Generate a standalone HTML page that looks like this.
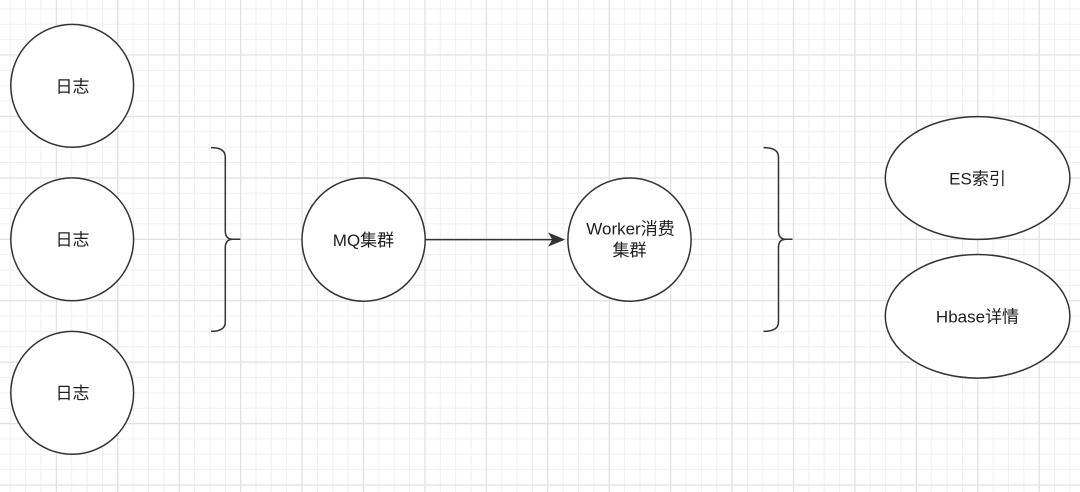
<!DOCTYPE html>
<html>
<head>
<meta charset="utf-8">
<style>
html,body{margin:0;padding:0;background:#fff;}
body{width:1080px;height:492px;overflow:hidden;}
svg{display:block;}
text{font-family:"Liberation Sans","Noto Sans CJK SC",sans-serif;font-size:17px;fill:#1e1e1e;text-anchor:middle;dominant-baseline:central;}
</style>
</head>
<body>
<svg width="1080" height="492" viewBox="0 0 1080 492" xmlns="http://www.w3.org/2000/svg">
<rect width="1080" height="492" fill="#fff"/>
<g stroke="#f0f0f0" stroke-width="1">
<line x1="10.3" y1="0" x2="10.3" y2="492"/><line x1="25.66" y1="0" x2="25.66" y2="492"/><line x1="41.01" y1="0" x2="41.01" y2="492"/>
<line x1="71.73" y1="0" x2="71.73" y2="492"/><line x1="87.09" y1="0" x2="87.09" y2="492"/><line x1="102.44" y1="0" x2="102.44" y2="492"/>
<line x1="133.16" y1="0" x2="133.16" y2="492"/><line x1="148.51" y1="0" x2="148.51" y2="492"/><line x1="163.87" y1="0" x2="163.87" y2="492"/>
<line x1="194.58" y1="0" x2="194.58" y2="492"/><line x1="209.94" y1="0" x2="209.94" y2="492"/><line x1="225.3" y1="0" x2="225.3" y2="492"/>
<line x1="256.01" y1="0" x2="256.01" y2="492"/><line x1="271.37" y1="0" x2="271.37" y2="492"/><line x1="286.73" y1="0" x2="286.73" y2="492"/>
<line x1="317.44" y1="0" x2="317.44" y2="492"/><line x1="332.8" y1="0" x2="332.8" y2="492"/><line x1="348.15" y1="0" x2="348.15" y2="492"/>
<line x1="378.87" y1="0" x2="378.87" y2="492"/><line x1="394.23" y1="0" x2="394.23" y2="492"/><line x1="409.58" y1="0" x2="409.58" y2="492"/>
<line x1="440.3" y1="0" x2="440.3" y2="492"/><line x1="455.65" y1="0" x2="455.65" y2="492"/><line x1="471.01" y1="0" x2="471.01" y2="492"/>
<line x1="501.72" y1="0" x2="501.72" y2="492"/><line x1="517.08" y1="0" x2="517.08" y2="492"/><line x1="532.44" y1="0" x2="532.44" y2="492"/>
<line x1="563.15" y1="0" x2="563.15" y2="492"/><line x1="578.51" y1="0" x2="578.51" y2="492"/><line x1="593.87" y1="0" x2="593.87" y2="492"/>
<line x1="624.58" y1="0" x2="624.58" y2="492"/><line x1="639.94" y1="0" x2="639.94" y2="492"/><line x1="655.29" y1="0" x2="655.29" y2="492"/>
<line x1="686.01" y1="0" x2="686.01" y2="492"/><line x1="701.37" y1="0" x2="701.37" y2="492"/><line x1="716.72" y1="0" x2="716.72" y2="492"/>
<line x1="747.44" y1="0" x2="747.44" y2="492"/><line x1="762.79" y1="0" x2="762.79" y2="492"/><line x1="778.15" y1="0" x2="778.15" y2="492"/>
<line x1="808.86" y1="0" x2="808.86" y2="492"/><line x1="824.22" y1="0" x2="824.22" y2="492"/><line x1="839.58" y1="0" x2="839.58" y2="492"/>
<line x1="870.29" y1="0" x2="870.29" y2="492"/><line x1="885.65" y1="0" x2="885.65" y2="492"/><line x1="901.01" y1="0" x2="901.01" y2="492"/>
<line x1="931.72" y1="0" x2="931.72" y2="492"/><line x1="947.08" y1="0" x2="947.08" y2="492"/><line x1="962.43" y1="0" x2="962.43" y2="492"/>
<line x1="993.15" y1="0" x2="993.15" y2="492"/><line x1="1008.5" y1="0" x2="1008.5" y2="492"/><line x1="1023.86" y1="0" x2="1023.86" y2="492"/>
<line x1="1054.58" y1="0" x2="1054.58" y2="492"/><line x1="1069.93" y1="0" x2="1069.93" y2="492"/>
<line x1="0" y1="8.93" x2="1080" y2="8.93"/><line x1="0" y1="24.29" x2="1080" y2="24.29"/><line x1="0" y1="39.64" x2="1080" y2="39.64"/>
<line x1="0" y1="70.36" x2="1080" y2="70.36"/><line x1="0" y1="85.72" x2="1080" y2="85.72"/><line x1="0" y1="101.07" x2="1080" y2="101.07"/>
<line x1="0" y1="131.79" x2="1080" y2="131.79"/><line x1="0" y1="147.14" x2="1080" y2="147.14"/><line x1="0" y1="162.5" x2="1080" y2="162.5"/>
<line x1="0" y1="193.21" x2="1080" y2="193.21"/><line x1="0" y1="208.57" x2="1080" y2="208.57"/><line x1="0" y1="223.93" x2="1080" y2="223.93"/>
<line x1="0" y1="254.64" x2="1080" y2="254.64"/><line x1="0" y1="270" x2="1080" y2="270"/><line x1="0" y1="285.36" x2="1080" y2="285.36"/>
<line x1="0" y1="316.07" x2="1080" y2="316.07"/><line x1="0" y1="331.43" x2="1080" y2="331.43"/><line x1="0" y1="346.79" x2="1080" y2="346.79"/>
<line x1="0" y1="377.5" x2="1080" y2="377.5"/><line x1="0" y1="392.86" x2="1080" y2="392.86"/><line x1="0" y1="408.21" x2="1080" y2="408.21"/>
<line x1="0" y1="438.93" x2="1080" y2="438.93"/><line x1="0" y1="454.29" x2="1080" y2="454.29"/><line x1="0" y1="469.64" x2="1080" y2="469.64"/>
</g>
<g stroke="#e2e2e2" stroke-width="1.3">
<line x1="56.37" y1="0" x2="56.37" y2="492"/><line x1="117.8" y1="0" x2="117.8" y2="492"/><line x1="179.23" y1="0" x2="179.23" y2="492"/>
<line x1="240.66" y1="0" x2="240.66" y2="492"/><line x1="302.08" y1="0" x2="302.08" y2="492"/><line x1="363.51" y1="0" x2="363.51" y2="492"/>
<line x1="424.94" y1="0" x2="424.94" y2="492"/><line x1="486.37" y1="0" x2="486.37" y2="492"/><line x1="547.8" y1="0" x2="547.8" y2="492"/>
<line x1="609.22" y1="0" x2="609.22" y2="492"/><line x1="670.65" y1="0" x2="670.65" y2="492"/><line x1="732.08" y1="0" x2="732.08" y2="492"/>
<line x1="793.51" y1="0" x2="793.51" y2="492"/><line x1="854.94" y1="0" x2="854.94" y2="492"/><line x1="916.36" y1="0" x2="916.36" y2="492"/>
<line x1="977.79" y1="0" x2="977.79" y2="492"/><line x1="1039.22" y1="0" x2="1039.22" y2="492"/>
<line x1="0" y1="55" x2="1080" y2="55"/><line x1="0" y1="116.43" x2="1080" y2="116.43"/><line x1="0" y1="177.86" x2="1080" y2="177.86"/>
<line x1="0" y1="239.29" x2="1080" y2="239.29"/><line x1="0" y1="300.72" x2="1080" y2="300.72"/><line x1="0" y1="362.14" x2="1080" y2="362.14"/>
<line x1="0" y1="423.57" x2="1080" y2="423.57"/><line x1="0" y1="485" x2="1080" y2="485"/>
</g>

<g fill="#fff" stroke="#333" stroke-width="1.5">
<circle cx="72.2" cy="85.8" r="61.4"/>
<circle cx="72.2" cy="239.3" r="61.4"/>
<circle cx="72.2" cy="392.8" r="61.4"/>
<circle cx="363.6" cy="239.6" r="61.6"/>
<circle cx="629.5" cy="239.6" r="61.6"/>
<ellipse cx="977.6" cy="178" rx="92.3" ry="61.4"/>
<ellipse cx="977.6" cy="316.3" rx="92.3" ry="61.8"/>
</g>

<g fill="none" stroke="#333" stroke-width="1.5">
<path d="M211,147.6 Q225.3,147.6 225.3,157 L225.3,231 Q225.3,239.3 233,239.3 L240.4,239.3 M233,239.3 Q225.3,239.3 225.3,247.6 L225.3,322 Q225.3,331.4 211,331.4"/>
<path d="M763.5,147.6 Q778.5,147.6 778.5,157 L778.5,231 Q778.5,239.3 786,239.3 L792.5,239.3 M786,239.3 Q778.5,239.3 778.5,247.6 L778.5,322 Q778.5,331.4 763.5,331.4"/>
<line x1="425.5" y1="239.6" x2="556" y2="239.6"/>
</g>
<path d="M563.5,239.6 L549.5,233.8 L553,239.6 L549.5,245.4 Z" fill="#333" stroke="#333" stroke-width="1.2" stroke-linejoin="miter"/>

<text x="72.5" y="87">日志</text>
<text x="72.5" y="240">日志</text>
<text x="72.5" y="393.5">日志</text>
<text x="363.5" y="240.5">MQ集群</text>
<text x="630.5" y="229">Worker消费</text>
<text x="629.5" y="250.5">集群</text>
<text x="977.5" y="179">ES索引</text>
<text x="977.5" y="317">Hbase详情</text>
</svg>
</body>
</html>
